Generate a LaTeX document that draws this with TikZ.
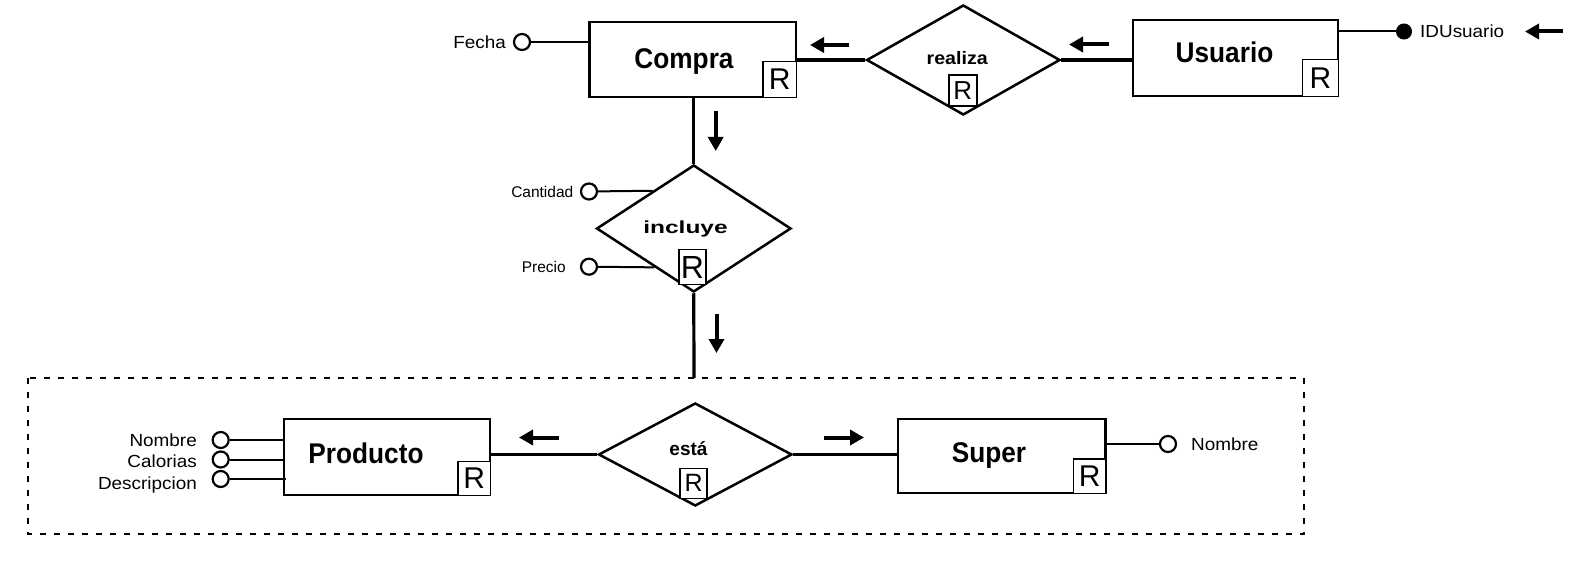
\documentclass[tikz,border=0pt]{standalone}
\usepackage{fontspec}
\setmainfont{Liberation Sans}
\usepackage{graphicx}
\usetikzlibrary{shapes.geometric,arrows.meta,calc}
\newcommand{\entname}[1]{\scalebox{0.92}[1]{#1}}
\newcommand{\attrname}[1]{\scalebox{1.08}[1]{#1}}
\begin{document}
\begin{tikzpicture}[x=1pt,y=-1pt,
  entity/.style={draw,line width=2.5pt,rectangle,inner sep=0pt},
  ename/.style={inner sep=0pt,anchor=base,font=\bfseries\fontsize{28.5}{32}\selectfont},
  rel/.style={draw,line width=2.5pt,diamond,inner sep=0pt,fill=white},
  rname/.style={inner sep=0pt,font=\bfseries\fontsize{18}{22}\selectfont},
  rbox/.style={draw,line width=1.5pt,fill=white,inner sep=0pt,font=\fontsize{30}{30}\selectfont},
  conn/.style={line width=3.2pt},
  aline/.style={line width=2pt},
  acirc/.style={circle,draw,line width=2.2pt,fill=white,minimum size=16pt,inner sep=0pt},
  kcirc/.style={circle,draw,line width=1pt,fill=black,minimum size=15pt,inner sep=0pt},
  attr/.style={inner sep=0pt,font=\fontsize{17.5}{21}\selectfont},
  sattr/.style={inner sep=0pt,font=\fontsize{15.5}{18}\selectfont},
  dirarrow/.style={line width=4pt,-{Triangle[length=14pt,width=15pt]}},
  grpbox/.style={line width=2.5pt,dash pattern=on 6pt off 8pt}
]
\useasboundingbox (0,0) rectangle (1580,564);

% group box
\draw[grpbox] (28,378) rectangle (1304,534);

% entities
\node[entity,minimum width=206.5pt,minimum height=75pt] (compra) at (692.75,59.5) {};
\node[entity,minimum width=205pt,minimum height=76pt] (usuario) at (1235.5,58) {};
\node[entity,minimum width=206pt,minimum height=76pt] (producto) at (387,457) {};
\node[entity,minimum width=207.5pt,minimum height=74pt] (super) at (1001.75,456) {};

\node[ename] (compraT) at (684,69) {\entname{Compra}};
\node[ename] (usuarioT) at (1224.5,62.8) {\entname{Usuario}};
\node[ename] (productoT) at (366,463.8) {\entname{Producto}};
\node[ename] (superT) at (989,462.8) {\entname{Super}};

\node[rbox,minimum width=33.5pt,minimum height=36pt,anchor=south east] (compraR) at (compra.south east) {R};
\node[rbox,minimum width=36pt,minimum height=37pt,anchor=south east] (usuarioR) at (usuario.south east) {R};
\node[rbox,minimum width=32.5pt,minimum height=34pt,anchor=south east] (productoR) at (producto.south east) {R};
\node[rbox,minimum width=32.5pt,minimum height=34.5pt,anchor=south east] (superR) at (super.south east) {R};

% relationships
\node[rel,minimum width=193.5pt,minimum height=110pt] (realiza) at (963.3,60) {};
\node[rel,minimum width=194.5pt,minimum height=127pt] (incluye) at (693.75,228.5) {};
\node[rel,minimum width=193.5pt,minimum height=103pt] (esta) at (695.25,454.5) {};

\node[rname,anchor=base] (realizaT) at (957.2,64.3) {\scalebox{1.09}[1]{realiza}};
\node[rname,font=\bfseries\fontsize{17.5}{21}\selectfont,anchor=base] (incluyeT) at (685.5,234) {\scalebox{1.4}[1]{incluye}};
\node[rname,font=\bfseries\fontsize{19}{22}\selectfont,anchor=base] (estaT) at (688.5,455) {está};

\node[rbox,font=\fontsize{26}{26}\selectfont,minimum width=28pt,minimum height=31pt] (realizaR) at (962.8,90.5) {R};
\node[rbox,font=\fontsize{32}{32}\selectfont,minimum width=27pt,minimum height=35pt] (incluyeR) at (692.5,267) {R};
\node[rbox,font=\fontsize{25}{25}\selectfont,minimum width=27pt,minimum height=30pt] (estaR) at (693.7,483.3) {R};

% connectors
\draw[conn] (realiza.west) -- (realiza.west -| compra.east);
\draw[conn] (realiza.east) -- (realiza.east -| usuario.west);
\draw[conn] (incluye.north) -- (incluye.north |- compra.south);
\coordinate (grpTop) at (694,378);
\draw[conn] (incluye.south) -- (grpTop);
\draw[conn] (esta.west) -- (esta.west -| producto.east);
\draw[conn] (esta.east) -- (esta.east -| super.west);

% attributes
\node[acirc] (fechaC) at (522,42) {};
\node[attr,anchor=east] (fechaT) at (506,42) {\attrname{Fecha}};
\draw[aline] (fechaC) -- (fechaC -| compra.west);

\node[kcirc] (idC) at (1404,31.5) {};
\node[attr,anchor=west] (idT) at (1420,31.5) {\attrname{IDUsuario}};
\draw[aline] (usuario.east |- idC) -- (idC);

\node[acirc] (cantC) at (589,191.5) {};
\node[sattr,anchor=east] (cantT) at (573.5,191.5) {Cantidad};
\coordinate (cantE) at ($(incluye.north)!0.417!(incluye.west)$);
\draw[aline] (cantC) -- (cantE);

\node[acirc] (precC) at (589,266.7) {};
\node[sattr,anchor=east] (precT) at (566,266.7) {Precio};
\coordinate (precE) at ($(incluye.west)!0.6!(incluye.south)$);
\draw[aline] (precC) -- (precE);

\node[acirc] (nomC) at (220.7,440) {};
\node[acirc] (calC) at (220.7,459.5) {};
\node[acirc] (desC) at (220.7,479) {};
\node[attr,anchor=base east] (nomT) at (197,446.7) {\attrname{Nombre}};
\node[attr,anchor=base east] (calT) at (197,467.5) {\attrname{Calorias}};
\node[attr,anchor=base east] (desT) at (197,489.5) {\attrname{Descripcion}};
\draw[aline] (nomC) -- (nomC -| producto.west);
\draw[aline] (calC) -- (calC -| producto.west);
\coordinate (desE) at ($(desC -| producto.west)+(3,0)$);
\draw[aline] (desC) -- (desE);

\node[acirc] (snomC) at (1168,444) {};
\node[attr,anchor=west] (snomT) at (1191,444) {\attrname{Nombre}};
\draw[aline] (super.east |- snomC) -- (snomC);

% direction arrows
\coordinate (a1s) at (849,45); \coordinate (a1e) at (810,45);
\coordinate (a2s) at (1109,44.5); \coordinate (a2e) at (1069,44.5);
\coordinate (a3s) at (1563,31.5); \coordinate (a3e) at (1525,31.5);
\coordinate (a4s) at (715.7,111); \coordinate (a4e) at (715.7,151);
\coordinate (a5s) at (716.5,314); \coordinate (a5e) at (716.5,353);
\coordinate (a6s) at (559,437.5); \coordinate (a6e) at (519,437.5);
\coordinate (a7s) at (824,437.5); \coordinate (a7e) at (864,437.5);
\foreach \s/\e in {a1s/a1e,a2s/a2e,a3s/a3e,a4s/a4e,a5s/a5e,a6s/a6e,a7s/a7e}
  \draw[dirarrow] (\s) -- (\e);
\end{tikzpicture}
\end{document}
